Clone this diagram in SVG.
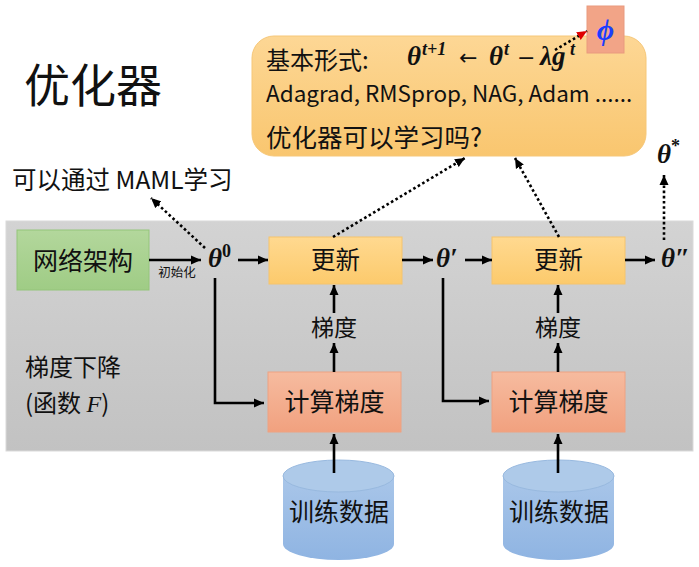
<svg xmlns="http://www.w3.org/2000/svg" width="699" height="567" viewBox="0 0 699 567">
<defs>
<style>
.cjk{font-family:"Noto Sans CJK SC","Noto Sans",sans-serif;fill:#111;}
.math{font-family:"Liberation Serif","DejaVu Serif",serif;font-style:italic;font-weight:bold;fill:#111;}
.ln{stroke:#000;stroke-width:2.6;fill:none;}
.dot{stroke:#000;stroke-width:2.6;fill:none;stroke-dasharray:2.6 2.6;}
</style>
<linearGradient id="gGray" x1="0" y1="0" x2="0" y2="1"><stop offset="0" stop-color="#d3d3d3"/><stop offset="1" stop-color="#c2c2c2"/></linearGradient>
<linearGradient id="gGreen" x1="0" y1="0" x2="0" y2="1"><stop offset="0" stop-color="#b3d79c"/><stop offset="1" stop-color="#9fcc85"/></linearGradient>
<linearGradient id="gYel" x1="0" y1="0" x2="0" y2="1"><stop offset="0" stop-color="#ffd990"/><stop offset="1" stop-color="#fcca6c"/></linearGradient>
<linearGradient id="gOrg" x1="0" y1="0" x2="0" y2="1"><stop offset="0" stop-color="#fdd795"/><stop offset="1" stop-color="#f9c66f"/></linearGradient>
<linearGradient id="gSal" x1="0" y1="0" x2="0" y2="1"><stop offset="0" stop-color="#f6bb9f"/><stop offset="1" stop-color="#f1a17f"/></linearGradient>
<linearGradient id="gBlue" x1="0" y1="0" x2="0" y2="1"><stop offset="0" stop-color="#a9c6e9"/><stop offset="1" stop-color="#8fb4e2"/></linearGradient>
<marker id="ah" markerUnits="userSpaceOnUse" markerWidth="11" markerHeight="10" refX="10" refY="5" orient="auto"><path d="M0,0.5 L10,5 L0,9.5 z" fill="#000"/></marker>
<marker id="ahr" markerUnits="userSpaceOnUse" markerWidth="11" markerHeight="10" refX="10" refY="5" orient="auto"><path d="M0,0.5 L10,5 L0,9.5 z" fill="#e00000"/></marker>
</defs>
<rect width="699" height="567" fill="#fff"/>

<g id="panel">
<rect x="6" y="221" width="687" height="230" fill="url(#gGray)" stroke="#dadada" stroke-width="1"/>
<text class="cjk" x="25" y="376" font-size="24">梯度下降</text>
<text class="cjk" x="25" y="412" font-size="24">(函数 <tspan font-family="Liberation Serif,serif" font-style="italic">F</tspan>)</text>
</g>

<g id="title"><text class="cjk" x="24" y="102" font-size="46">优化器</text></g>

<g id="optimizer">
<rect x="252" y="36" width="394" height="120" rx="22" fill="url(#gOrg)" stroke="#f6c779" stroke-width="1"/>
<text class="cjk" x="266" y="69" font-size="24">基本形式:</text>
<text class="math" font-size="27"><tspan x="407" y="65">θ</tspan><tspan x="422" y="55" font-size="18">t+1</tspan><tspan x="459" y="65" font-style="normal" font-weight="normal" font-family="DejaVu Sans,sans-serif" font-size="22">←</tspan><tspan x="489" y="65">θ</tspan><tspan x="504" y="55" font-size="18">t</tspan><tspan x="517" y="65" font-style="normal" font-weight="normal" font-family="DejaVu Sans,sans-serif" font-size="22">−</tspan><tspan x="540" y="65">λg</tspan><tspan x="570" y="55" font-size="18">t</tspan></text>
<text class="cjk" x="266" y="102" font-size="22.5">Adagrad, RMSprop, NAG, Adam ......</text>
<text class="cjk" x="266" y="147" font-size="25.5">优化器可以学习吗?</text>
</g>

<g id="phi">
<rect x="587" y="6" width="37" height="47" fill="#f2a487" stroke="#e99a7e" stroke-width="1"/>
<text x="605.5" y="40" text-anchor="middle" font-family="Liberation Serif,serif" font-style="italic" font-weight="bold" font-size="30" fill="#1a3dff">ϕ</text>
</g>

<g id="maml"><text class="cjk" x="12" y="189" font-size="24.5">可以通过 MAML学习</text></g>

<g id="arch">
<rect x="17" y="230" width="132" height="60" fill="url(#gGreen)" stroke="#94c57a" stroke-width="1"/>
<text class="cjk" x="83" y="270" font-size="25" text-anchor="middle">网络架构</text>
</g>
<g id="init"><text class="cjk" x="177" y="277" font-size="12.5" text-anchor="middle">初始化</text></g>

<g id="theta0"><text class="math" font-size="27" x="208" y="267">θ<tspan font-size="18" dy="-10" font-style="normal">0</tspan></text></g>
<g id="theta1"><text class="math" font-size="27" x="436" y="267">θ′</text></g>
<g id="theta2"><text class="math" font-size="27" x="661" y="267">θ″</text></g>
<g id="thetastar"><text class="math" font-size="27" x="657" y="163">θ<tspan font-size="18" dy="-11" font-style="normal">*</tspan></text></g>

<g id="update1">
<rect x="269" y="237" width="133" height="47" fill="url(#gYel)" stroke="#f6c46c" stroke-width="1"/>
<text class="cjk" x="335.5" y="269" font-size="24.5" text-anchor="middle">更新</text>
</g>
<g id="update2">
<rect x="492" y="237" width="133" height="47" fill="url(#gYel)" stroke="#f6c46c" stroke-width="1"/>
<text class="cjk" x="558.5" y="269" font-size="24.5" text-anchor="middle">更新</text>
</g>

<g id="grad1"><text class="cjk" x="334" y="336" font-size="23" text-anchor="middle">梯度</text></g>
<g id="grad2"><text class="cjk" x="558" y="336" font-size="23" text-anchor="middle">梯度</text></g>

<g id="compute1">
<rect x="268" y="372" width="133" height="60" fill="url(#gSal)" stroke="#eea282" stroke-width="1"/>
<text class="cjk" x="334.5" y="411" font-size="25" text-anchor="middle">计算梯度</text>
</g>
<g id="compute2">
<rect x="492" y="372" width="133" height="60" fill="url(#gSal)" stroke="#eea282" stroke-width="1"/>
<text class="cjk" x="558.5" y="411" font-size="25" text-anchor="middle">计算梯度</text>
</g>

<g id="data1">
<path d="M283,476 L283,544 A55.5,16 0 0 0 394,544 L394,476 Z" fill="url(#gBlue)"/>
<ellipse cx="338.5" cy="476" rx="55.5" ry="16" fill="#aecae9" stroke="#98b9df" stroke-width="1"/>
<text class="cjk" x="339" y="521" font-size="25" text-anchor="middle">训练数据</text>
</g>
<g id="data2">
<path d="M503,476 L503,544 A55.5,16 0 0 0 614,544 L614,476 Z" fill="url(#gBlue)"/>
<ellipse cx="558.5" cy="476" rx="55.5" ry="16" fill="#aecae9" stroke="#98b9df" stroke-width="1"/>
<text class="cjk" x="559" y="521" font-size="25" text-anchor="middle">训练数据</text>
</g>

<g id="connectors">
<line class="ln" x1="149" y1="260" x2="201" y2="260" marker-end="url(#ah)"/>
<line class="ln" x1="238" y1="260" x2="268" y2="260" marker-end="url(#ah)"/>
<line class="ln" x1="402" y1="260" x2="433" y2="260" marker-end="url(#ah)"/>
<line class="ln" x1="465" y1="260" x2="492" y2="260" marker-end="url(#ah)"/>
<line class="ln" x1="625" y1="260" x2="655" y2="260" marker-end="url(#ah)"/>
<polyline class="ln" points="215,278 215,403 264,403" marker-end="url(#ah)"/>
<polyline class="ln" points="443,278 443,401 489,401" marker-end="url(#ah)"/>
<line class="ln" x1="334" y1="372" x2="334" y2="343" marker-end="url(#ah)"/>
<line class="ln" x1="334" y1="313" x2="334" y2="285" marker-end="url(#ah)"/>
<line class="ln" x1="558" y1="372" x2="558" y2="343" marker-end="url(#ah)"/>
<line class="ln" x1="558" y1="313" x2="558" y2="285" marker-end="url(#ah)"/>
<line class="ln" x1="334" y1="473" x2="334" y2="434" marker-end="url(#ah)"/>
<line class="ln" x1="558" y1="473" x2="558" y2="434" marker-end="url(#ah)"/>
<line class="dot" x1="205" y1="248" x2="151" y2="198" marker-end="url(#ah)"/>
<line class="dot" x1="333" y1="237" x2="465" y2="158" marker-end="url(#ah)"/>
<line class="dot" x1="559" y1="237" x2="515" y2="158" marker-end="url(#ah)"/>
<line class="dot" x1="664" y1="240" x2="664" y2="175" marker-end="url(#ah)"/>
<line class="dot" x1="555" y1="50" x2="587" y2="31" stroke="#e00000" marker-end="url(#ahr)"/>
</g>
</svg>
